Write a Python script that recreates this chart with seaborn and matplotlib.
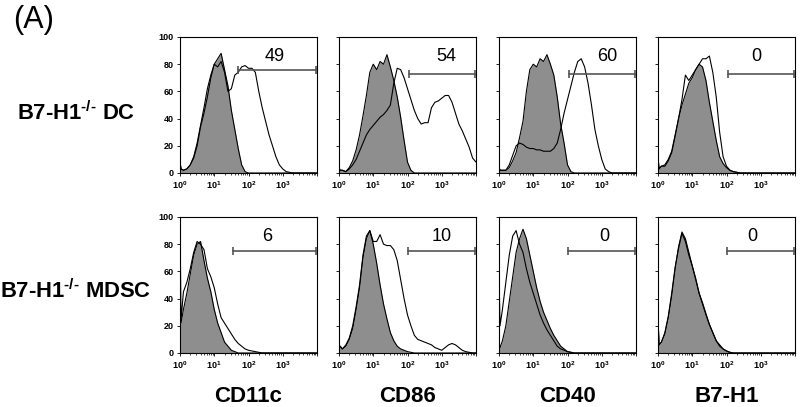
import numpy as np
import matplotlib
matplotlib.use("Agg")
import matplotlib.pyplot as plt
import seaborn as sns

# log10 fluorescence positions shared by every histogram
LOG_X = [0.0, 0.03, 0.1, 0.2, 0.3, 0.4, 0.5, 0.6, 0.7, 0.8, 0.9,
         1.0, 1.1, 1.2, 1.3, 1.4, 1.5, 1.6, 1.7, 1.8, 1.9,
         2.0, 2.1, 2.2, 2.3, 2.4, 2.5, 2.6, 2.7, 2.8, 2.9,
         3.0, 3.1, 3.2, 3.3, 3.4, 3.5, 3.6, 3.7, 3.8, 3.9, 4.0]

MARKERS = ["CD11c", "CD86", "CD40", "B7-H1"]
ROW_NAMES = ["DC", "MDSC"]
PCT = [[49, 54, 60, 0], [6, 10, 0, 0]]
GATE_START = [[1.7, 2.03, 2.03, 2.03], [1.56, 2.0, 2.0, 2.0]]   # log10
GATE_Y = [[76, 73, 73, 73], [75, 75, 75, 75]]

# isotype control (grey filled) / stained (open line), % of max
DC_CD11C_CTRL = [8, 3, 2, 3, 6, 12, 22, 35, 48, 62, 72, 80, 84, 88, 76, 64, 46, 32, 18, 6, 1, 0]
DC_CD11C = [8, 3, 2, 3, 6, 11, 20, 34, 44, 56, 70, 80, 78, 82, 74, 60, 62, 72, 74, 78, 79, 77,
            77, 74, 60, 48, 38, 28, 20, 12, 6, 3, 1, 0.5, 0]
DC_CD86_CTRL = [4, 2, 2, 1, 4, 9, 17, 28, 42, 57, 74, 80, 76, 82, 80, 87, 78, 68, 56, 41, 24, 8, 2, 0]
DC_CD86 = [4, 2, 2, 1, 3, 6, 10, 16, 22, 28, 32, 35, 38, 41, 43, 46, 50, 66, 77, 76, 70, 62,
           54, 46, 40, 36, 37, 37, 48, 52, 53, 55, 57, 57, 52, 44, 36, 31, 25, 19, 11, 8]
DC_CD40_CTRL = [4, 2, 2, 2, 4, 9, 15, 26, 38, 60, 76, 80, 78, 84, 82, 87, 80, 72, 56, 36, 22, 6, 1, 0]
DC_CD40 = [4, 2, 2, 2, 6, 13, 20, 22, 21, 19, 18, 18, 17, 17, 16, 16, 16, 18, 22, 32, 44, 54,
           64, 74, 82, 84, 78, 66, 50, 32, 20, 10, 3, 1, 0]
DC_B7H1_CTRL = [12, 3, 5, 6, 10, 16, 28, 40, 50, 58, 66, 70, 76, 80, 78, 68, 52, 38, 24, 12, 7, 4,
                2, 1, 0.5, 0]
DC_B7H1 = [12, 3, 5, 5, 9, 15, 27, 40, 54, 72, 68, 72, 76, 80, 84, 84, 86, 74, 56, 30, 12, 5,
           2, 1, 0.5, 0]

MDSC_CD11C_CTRL = [22, 22, 32, 44, 58, 72, 80, 82, 68, 55, 45, 32, 22, 15, 8, 5, 2, 1, 0]
MDSC_CD11C = [100, 24, 45, 52, 62, 74, 82, 80, 76, 62, 56, 48, 36, 26, 22, 18, 14, 10, 7, 5, 3, 2,
              1.5, 1, 0.5, 0]
MDSC_CD86_CTRL = [4, 5, 3, 5, 10, 18, 32, 48, 70, 84, 90, 80, 66, 50, 36, 25, 15, 9, 5, 3, 2, 1, 0.5, 0]
MDSC_CD86 = [4, 5, 3, 6, 11, 20, 34, 50, 72, 86, 90, 82, 82, 87, 80, 79, 79, 76, 68, 54, 40, 28,
             20, 13, 10, 9, 8, 7, 6, 4, 3, 2, 4, 6, 7, 6, 4, 2, 1, 0.5, 0, 0]
MDSC_CD40_CTRL = [8, 4, 9, 20, 38, 56, 74, 84, 91, 84, 72, 60, 48, 38, 30, 24, 18, 13, 9, 5, 3, 1, 0.5, 0]
MDSC_CD40 = [58, 20, 32, 52, 72, 86, 90, 80, 74, 62, 52, 44, 36, 28, 22, 17, 13, 9, 5, 3, 2, 1, 0.5, 0]
MDSC_B7H1_CTRL = [26, 6, 8, 14, 26, 42, 62, 78, 89, 84, 74, 64, 54, 44, 36, 28, 21, 15, 9, 6, 3, 1.5, 0.5, 0]
MDSC_B7H1 = [26, 6, 8, 15, 27, 44, 63, 77, 88, 82, 72, 64, 55, 44, 37, 29, 21, 15, 9, 5, 3, 1.5, 0.5, 0]

CTRL = [[DC_CD11C_CTRL, DC_CD86_CTRL, DC_CD40_CTRL, DC_B7H1_CTRL],
        [MDSC_CD11C_CTRL, MDSC_CD86_CTRL, MDSC_CD40_CTRL, MDSC_B7H1_CTRL]]
STAIN = [[DC_CD11C, DC_CD86, DC_CD40, DC_B7H1],
         [MDSC_CD11C, MDSC_CD86, MDSC_CD40, MDSC_B7H1]]


def full(vals):
    # curves are flat zero after the last listed value
    return np.array(list(vals) + [0] * (len(LOG_X) - len(vals)), dtype=float)


sns.set_style("ticks")
plt.rcParams["font.family"] = ["Liberation Sans", "DejaVu Sans"]
plt.rcParams["mathtext.fontset"] = "custom"
plt.rcParams["mathtext.rm"] = "Liberation Sans"
plt.rcParams["mathtext.bf"] = "Liberation Sans:bold"
for k in ["text.color", "axes.labelcolor", "xtick.color", "ytick.color", "axes.edgecolor"]:
    plt.rcParams[k] = "black"

GREY = "#8e8e8e"
fig = plt.figure(figsize=(8, 4.07), dpi=100)

lefts = [180, 339, 499, 658]
bottoms = [173, 353]
label_x = [[2.76, 3.14, 3.16, 2.88], [2.56, 3.0, 3.07, 2.74]]
x = 10 ** np.array(LOG_X)

for r in range(2):
    for c in range(4):
        ax = fig.add_axes([lefts[c] / 800, 1 - bottoms[r] / 407, 137 / 800, 136 / 407])
        ctrl = full(CTRL[r][c])
        stain = full(STAIN[r][c])
        ax.fill_between(x, ctrl, color=GREY, lw=0)
        sns.lineplot(x=x, y=ctrl, ax=ax, color="black", linewidth=0.8, estimator=None, sort=False)
        sns.lineplot(x=x, y=stain, ax=ax, color="black", linewidth=0.8, estimator=None, sort=False)

        ax.set_xscale("log")
        ax.set_xlim(1, 1e4)
        ax.set_ylim(0, 100)
        ax.set_xticks([1, 10, 100, 1000, 10000])
        ax.set_xticklabels([r"$\mathbf{10^{0}}$", r"$\mathbf{10^{1}}$",
                            r"$\mathbf{10^{2}}$", r"$\mathbf{10^{3}}$", ""])
        ax.set_yticks([0, 20, 40, 60, 80, 100])
        if c == 0:
            ax.set_yticklabels(["0", "20", "40", "60", "80", "100"], fontweight="bold")
        else:
            ax.set_yticklabels([])
        ax.tick_params(which="major", direction="out", length=2.5, width=0.6,
                       labelsize=6.5, pad=2)
        ax.tick_params(which="minor", direction="out", length=1.5, width=0.5)
        ax.set_xlabel("")
        ax.set_ylabel("")
        for s in ax.spines.values():
            s.set_linewidth(0.8)

        # gate marker and percent positive
        g0 = 10 ** GATE_START[r][c]
        gy = GATE_Y[r][c]
        ax.plot([g0, 10 ** 3.98], [gy, gy], color="#555555", lw=1.2,
                marker="|", ms=6, mew=1.2)
        ax.text(10 ** label_x[r][c], 86, str(PCT[r][c]), ha="center", va="center",
                fontsize=13)

        if r == 1:
            fig.text((lefts[c] + 68.5) / 800, 1 - 396 / 407, MARKERS[c],
                     ha="center", va="center", fontsize=16, fontweight="bold")

# row labels: "B7-H1" + small superscript "-/-" + cell type
for r, yc in enumerate([113, 291]):
    fig.text(76 / 800, 1 - yc / 407,
             "B7-H1$^{\\mathbf{\u2010/\u2010}}$ " + ROW_NAMES[r],
             ha="center", va="center", fontsize=15.8, fontweight="bold")

fig.text(34 / 800, 1 - 20 / 407, "(A)", ha="center", va="center", fontsize=22)

plt.savefig("out.png", dpi=100)
